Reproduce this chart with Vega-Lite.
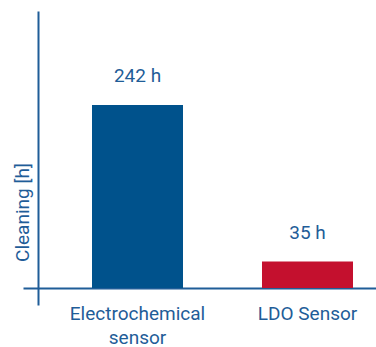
{
  "$schema": "https://vega.github.io/schema/vega-lite/v6.json",
  "width": 353,
  "height": 294,
  "autosize": "none",
  "padding": {"left": 23, "top": 11, "right": 0, "bottom": 42},
  "config": {
    "view": {"stroke": null},
    "font": "Roboto"
  },
  "data": {
    "values": [
      {"sensor": "Electrochemical sensor", "hours": 242, "label": "242 h"},
      {"sensor": "LDO Sensor", "hours": 35, "label": "35 h"}
    ]
  },
  "encoding": {
    "x": {
      "field": "sensor",
      "type": "nominal",
      "sort": null,
      "scale": {"paddingInner": 0.4647, "paddingOuter": 0.2706, "align": 0.75},
      "axis": {
        "title": null,
        "orient": "bottom",
        "offset": -17,
        "domainColor": "#1f5d98",
        "domainWidth": 2,
        "ticks": false,
        "labelAngle": 0,
        "labelPadding": 16,
        "labelFontSize": 19,
        "labelColor": "#1f5d98",
        "labelLineHeight": 24,
        "labelExpr": "datum.label == 'Electrochemical sensor' ? ['Electrochemical', 'sensor'] : datum.label"
      }
    },
    "y": {
      "field": "hours",
      "type": "quantitative",
      "scale": {"domain": [-22.5, 366.3], "nice": false, "zero": false},
      "axis": {
        "title": "Cleaning [h]",
        "offset": -15,
        "domainColor": "#1f5d98",
        "domainWidth": 2,
        "ticks": false,
        "labels": false,
        "grid": false,
        "titleFontSize": 19,
        "titleFontWeight": "normal",
        "titleColor": "#1f5d98",
        "titlePadding": 6,
        "titleY": 201
      }
    }
  },
  "layer": [
    {
      "mark": {"type": "bar"},
      "encoding": {
        "y2": {"datum": 0},
        "color": {
          "field": "sensor",
          "type": "nominal",
          "sort": null,
          "scale": {"range": ["#00528c", "#c4102e"]},
          "legend": null
        }
      }
    },
    {
      "mark": {"type": "text", "dy": -29, "baseline": "middle", "fontSize": 19, "color": "#1f5d98"},
      "encoding": {
        "text": {"field": "label"}
      }
    }
  ]
}
